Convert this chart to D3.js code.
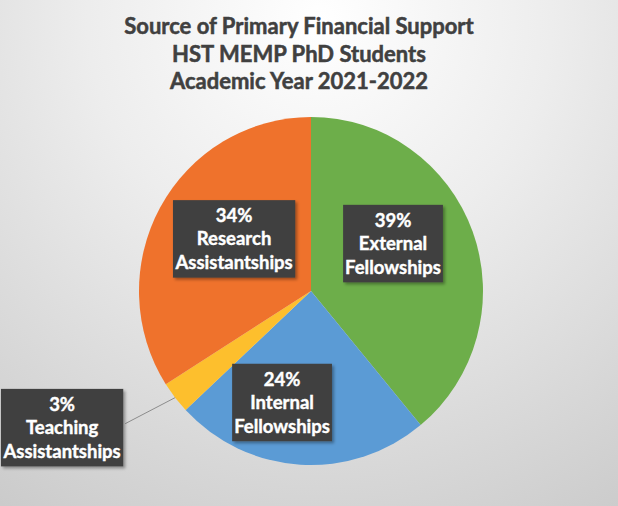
<!DOCTYPE html>
<html>
<head>
<meta charset="utf-8">
<script src="https://cdn.jsdelivr.net/npm/d3@7"></script>
<style>
  html, body { margin: 0; padding: 0; overflow: hidden; }
  text { font-family: Lato, "Open Sans", sans-serif; font-weight: bold; }
</style>
</head>
<body>
<div id="chart"></div>
<script>
// data
const categories = ["External Fellowships", "Internal Fellowships", "Teaching Assistantships", "Research Assistantships"];
const labelLines = [["External", "Fellowships"], ["Internal", "Fellowships"], ["Teaching", "Assistantships"], ["Research", "Assistantships"]];
const shares = [39, 24, 3, 34];
const colors = ["#6DAE4A", "#5B9BD5", "#FDBF2D", "#EF722C"];
const titleLines = ["Source of Primary Financial Support", "HST MEMP PhD Students", "Academic Year 2021-2022"];

const width = 618, height = 506;
const cx = 311, cy = 291, radius = 172, yScale = 174 / 172;

const svg = d3.select("#chart").append("svg")
    .attr("width", width)
    .attr("height", height);

const defs = svg.append("defs");

// background gradient
const grad = defs.append("radialGradient")
    .attr("id", "bg")
    .attr("gradientUnits", "userSpaceOnUse")
    .attr("cx", 320).attr("cy", 20).attr("r", 580);
grad.append("stop").attr("offset", "0%").attr("stop-color", "#ffffff");
grad.append("stop").attr("offset", "40%").attr("stop-color", "#ededed");
grad.append("stop").attr("offset", "100%").attr("stop-color", "#cbcbcb");

const shadow = defs.append("filter").attr("id", "shadow")
    .attr("x", "-10%").attr("y", "-10%").attr("width", "130%").attr("height", "130%");
shadow.append("feDropShadow")
    .attr("dx", 2).attr("dy", 2).attr("stdDeviation", 1.5)
    .attr("flood-color", "#000").attr("flood-opacity", 0.35);

svg.append("rect")
    .attr("width", width).attr("height", height)
    .attr("fill", "url(#bg)");

// title
const title = svg.append("text")
    .attr("text-anchor", "middle")
    .attr("fill", "#404040")
    .attr("stroke", "#404040")
    .attr("stroke-width", 0.5)
    .style("font-size", "22px");
titleLines.forEach((t, i) => {
    title.append("tspan")
        .attr("x", 299)
        .attr("y", 34 + i * 27.5)
        .text(t);
});

// pie
const pie = d3.pie().sort(null).value(d => d);
const arcs = pie(shares);
const arc = d3.arc().innerRadius(0).outerRadius(radius);
const labelArc = d3.arc().innerRadius(radius * 0.55).outerRadius(radius * 0.55);
const edgeArc = d3.arc().innerRadius(radius).outerRadius(radius);

const pieG = svg.append("g")
    .attr("transform", `translate(${cx},${cy}) scale(1,${yScale})`);

pieG.selectAll("path.slice")
    .data(arcs)
    .enter().append("path")
    .attr("class", "slice")
    .attr("d", arc)
    .attr("fill", (d, i) => colors[i]);

// label nudges (layout only) so boxes sit like the best-fit placement
const nudge = [[-7, -15], [-23, 16], [-113, 30], [6, -6]];
const outside = shares.map(v => v < 5);

const lineH = 23.5;

arcs.forEach((d, i) => {
    let base = outside[i] ? edgeArc.centroid(d) : labelArc.centroid(d);
    const px = cx + base[0];
    const py = cy + base[1] * yScale;
    const lx = px + nudge[i][0];
    const ly = py + nudge[i][1];

    const g = svg.append("g").attr("class", "label");
    const lines = [shares[i] + "%"].concat(labelLines[i]);

    const txt = g.append("text")
        .attr("text-anchor", "middle")
        .attr("fill", "#ffffff")
        .attr("stroke", "#ffffff")
        .attr("stroke-width", 0.4)
        .style("font-size", "18.5px");
    lines.forEach((l, k) => {
        txt.append("tspan")
            .attr("x", lx)
            .attr("y", ly + (k - 1) * lineH + 6.5)
            .text(l);
    });

    const bb = txt.node().getBBox();
    const boxW = bb.width + 4;
    const boxH = lines.length * lineH + 7;

    g.insert("rect", "text")
        .attr("x", lx - boxW / 2)
        .attr("y", ly - boxH / 2)
        .attr("width", boxW)
        .attr("height", boxH)
        .attr("fill", "#404040")
        .attr("filter", "url(#shadow)");

    if (outside[i]) {
        svg.insert("line", "g.label")
            .attr("x1", lx + boxW / 2 + 2)
            .attr("y1", ly - 4)
            .attr("x2", px)
            .attr("y2", py)
            .attr("stroke", "#8c8c8c")
            .attr("stroke-width", 1);
    }
});
</script>
</body>
</html>
